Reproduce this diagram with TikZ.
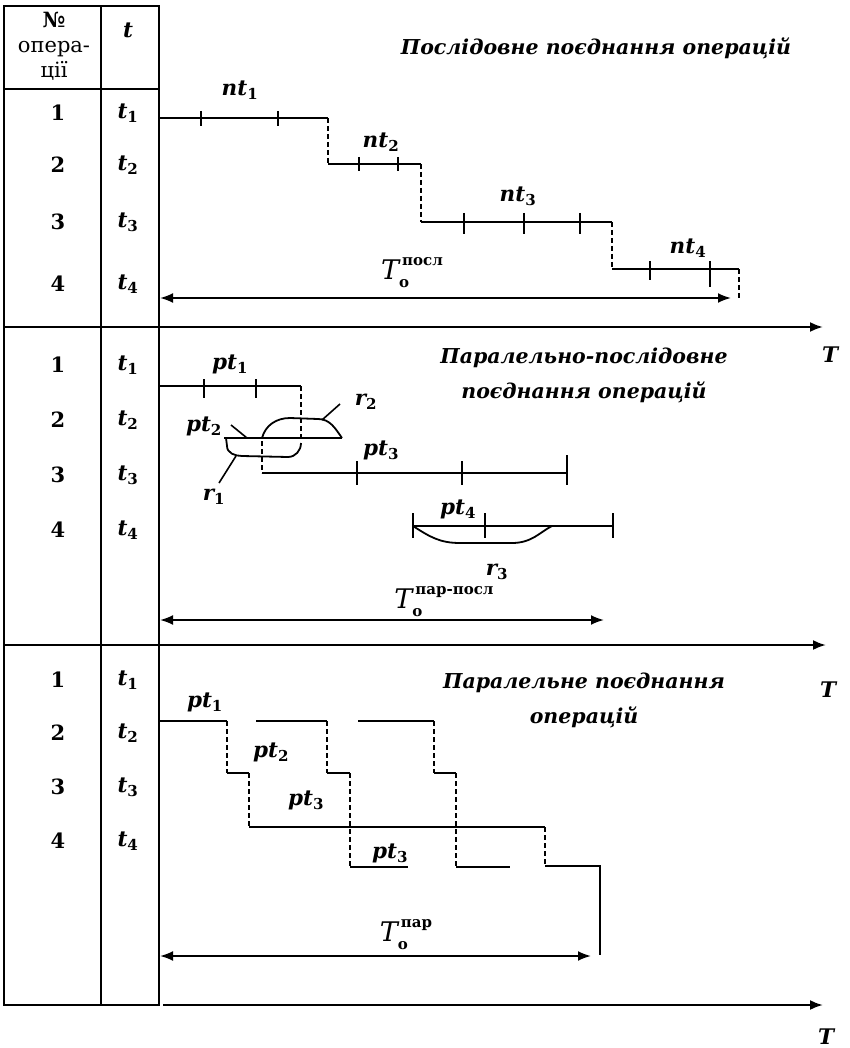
\documentclass[tikz,border=0pt]{standalone}
\usepackage{fontspec}
\setmainfont{DejaVu Serif}
\usetikzlibrary{arrows.meta}

% operation label with upright subscript, e.g. nt_1
\newcommand{\op}[2]{#1\textsubscript{\upshape #2}}
% total cycle time T_o with a word on top
\newcommand{\Tcyc}[1]{{\itshape T}\makebox[0pt][l]{\raisebox{-8pt}{\fontsize{15}{15}\selectfont\bfseries о}}\hspace{3pt}\raisebox{14pt}{\fontsize{15}{15}\selectfont\bfseries #1}}

\tikzset{
  grid/.style={line width=1.4pt},
  axis/.style={line width=2.2pt,-{Latex[length=13pt,width=10pt]}},
  span/.style={line width=2pt,{Latex[length=13pt,width=10pt]}-{Latex[length=13pt,width=10pt]}},
  oper/.style={line width=1.8pt},
  gap/.style={line width=1.2pt,dash pattern=on 5pt off 3pt},
  tick/.style={line width=1.6pt},
  lbl/.style={font=\fontsize{21.5}{24}\selectfont\bfseries\itshape},
  num/.style={font=\fontsize{21}{24}\selectfont\bfseries},
  head/.style={font=\fontsize{21}{25}\selectfont,align=center},
  title/.style={font=\fontsize{20.5}{35}\selectfont\bfseries\itshape,align=center},
  tot/.style={font=\fontsize{27}{30}\selectfont},
}

\begin{document}
\begin{tikzpicture}[x=1pt,y=-1pt]
\useasboundingbox (0,0) rectangle (850,1048);

% table of operations
\draw[grid] (4,6) rectangle (159,1005);
\draw[grid] (101,6) -- (101,1005);
\draw[grid] (4,89) -- (159,89);
\draw[grid] (4,327) -- (159,327);
\draw[grid] (4,645) -- (159,645);
\node[head] (hn) at (54,46) {{\bfseries №}\\опера-\\ції};
\node[lbl] (ht) at (128,30) {t};
\foreach \s/\i/\y in {a/1/113,a/2/165,a/3/222,a/4/284,
                      b/1/365,b/2/420,b/3/475,b/4/530,
                      c/1/680,c/2/733,c/3/787,c/4/841}{
  \node[num] (\s n\i) at (58,\y) {\i};
  \node[lbl] (\s t\i) at (128,\y) {\op{t}{\i}};
}

% time axes
\draw[axis] (160,327) -- (823,327);
\draw[axis] (160,645) -- (826,645);
\draw[axis] (163,1005) -- (823,1005);
\node[lbl] (T1) at (830,355) {T};
\node[lbl] (T2) at (828,690) {T};
\node[lbl] (T3) at (826,1037) {T};

% sequential
\node[title] (h1) at (596,48) {Послідовне поєднання операцій};
\draw[oper] (160,118) -- (328,118);
\draw[gap] (328,118) -- (328,164);
\draw[oper] (328,164) -- (421,164);
\draw[gap] (421,164) -- (421,222);
\draw[oper] (421,222) -- (612,222);
\draw[gap] (612,222) -- (612,269);
\draw[oper] (612,269) -- (739,269);
\draw[gap] (739,269) -- (739,298);
\foreach \x in {201,278} \draw[tick] (\x,111) -- (\x,126);
\foreach \x in {359,398} \draw[tick] (\x,157) -- (\x,171);
\foreach \x in {464,524,580} \draw[tick] (\x,213) -- (\x,234);
\draw[tick] (650,261) -- (650,280);
\draw[tick] (710,261) -- (710,287);
\node[lbl] (nt1) at (240,90) {\op{nt}{1}};
\node[lbl] (nt2) at (381,142) {\op{nt}{2}};
\node[lbl] (nt3) at (518,196) {\op{nt}{3}};
\node[lbl] (nt4) at (688,248) {\op{nt}{4}};
\draw[span] (160,298) -- (731,298);
\node[tot] (To1) at (412,273) {\Tcyc{посл}};

% parallel-sequential
\node[title] (h2) at (584,375) {Паралельно-послідовне\\поєднання операцій};
\draw[oper] (160,386) -- (301,386);
\draw[gap] (301,386) -- (301,440);
\draw[oper] (224,438) -- (342,438);
\draw[gap] (262,441) -- (262,473);
\draw[oper] (262,473) -- (567,473);
\draw[oper] (413,526) -- (613,526);
\foreach \x in {204,256} \draw[tick] (\x,379) -- (\x,398);
\foreach \x in {357,462} \draw[tick] (\x,461) -- (\x,485);
\draw[tick] (567,455) -- (567,485);
\foreach \x in {413,485,613} \draw[tick] (\x,513) -- (\x,538);
% overlaps of neighbouring operations
\draw[oper] (226,438) -- (227,446) to[out=-90,in=180] (242,456) -- (288,457)
  to[out=0,in=-90] (301,443);
\draw[oper] (262,438) to[out=75,in=180] (290,418) -- (318,419)
  to[out=0,in=125] (342,438);
\draw[oper] (413,526) .. controls (430,537) and (440,543) .. (460,543)
  -- (512,543) .. controls (532,543) and (540,532) .. (552,526);
\draw[tick] (247,438) -- (231,425);
\draw[tick] (322,420) -- (340,404);
\draw[tick] (236,456) -- (219,483);
\node[lbl] (pt1) at (230,364) {\op{pt}{1}};
\node[lbl] (pt2) at (204,426) {\op{pt}{2}};
\node[lbl] (pt3) at (381,450) {\op{pt}{3}};
\node[lbl] (pt4) at (458,509) {\op{pt}{4}};
\node[lbl] (r1) at (214,497) {\op{r}{1}};
\node[lbl] (r2) at (366,402) {\op{r}{2}};
\node[lbl] (r3) at (497,572) {\op{r}{3}};
\draw[span] (160,620) -- (604,620);
\node[tot] (To2) at (444,602) {\Tcyc{пар-посл}};

% parallel
\node[title] (h3) at (584,700) {Паралельне поєднання\\операцій};
\foreach \a/\b in {160/227,256/327,358/434}
  \draw[oper] (\a,721) -- (\b,721);
\draw[gap] (227,721) -- (227,773);
\draw[gap] (327,721) -- (327,773);
\draw[gap] (434,721) -- (434,773);
\draw[oper] (227,773) -- (249,773);
\draw[oper] (327,773) -- (350,773);
\draw[oper] (434,773) -- (456,773);
\draw[gap] (249,773) -- (249,827);
\draw[gap] (350,773) -- (350,867);
\draw[gap] (456,773) -- (456,867);
\draw[oper] (249,827) -- (545,827);
\draw[gap] (545,827) -- (545,866);
\draw[oper] (350,867) -- (408,867);
\draw[oper] (456,867) -- (510,867);
\draw[oper] (545,866) -- (600,866) -- (600,955);
\node[lbl] (qt1) at (205,702) {\op{pt}{1}};
\node[lbl] (qt2) at (271,752) {\op{pt}{2}};
\node[lbl] (qt3) at (306,800) {\op{pt}{3}};
\node[lbl] (qt4) at (390,853) {\op{pt}{3}};
\draw[span] (160,956) -- (591,956);
\node[tot] (To3) at (406,935) {\Tcyc{пар}};
\end{tikzpicture}
\end{document}
